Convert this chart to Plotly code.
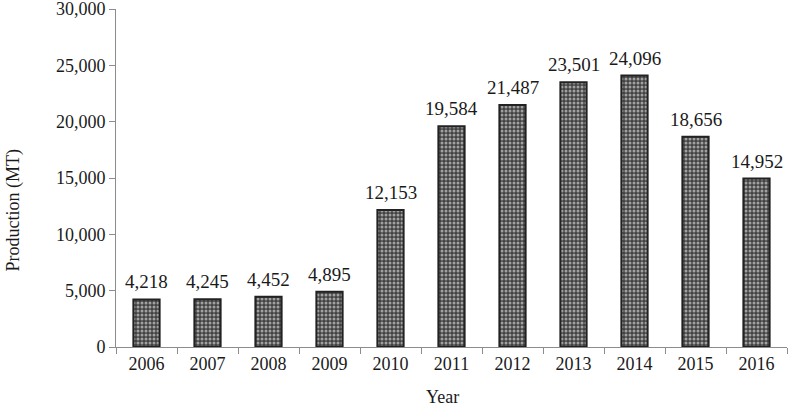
import plotly.graph_objects as go

years = ["2006", "2007", "2008", "2009", "2010", "2011", "2012", "2013", "2014", "2015", "2016"]
production = [4218, 4245, 4452, 4895, 12153, 19584, 21487, 23501, 24096, 18656, 14952]
y_ticks = [0, 5000, 10000, 15000, 20000, 25000, 30000]

serif = "Liberation Serif, Times New Roman, serif"

fig = go.Figure()

fig.add_trace(
    go.Bar(
        x=years,
        y=production,
        width=0.43,
        marker=dict(
            color="#444444",
            line=dict(color="#222222", width=2),
            pattern=dict(shape=".", fgcolor="#ffffff", bgcolor="#424242", size=4, solidity=0.45),
        ),
    )
)

# value labels above the bars (category axis -> position by index)
for i, v in enumerate(production):
    fig.add_annotation(x=i, y=v, text=f"{v:,}", showarrow=False, yanchor="bottom", yshift=5,
                       font=dict(family=serif, size=19, color="#1a1a1a"))

# axis titles as annotations so they sit where the original puts them
fig.add_annotation(text="Production (MT)", textangle=-90, xref="paper", yref="paper",
                   x=-0.153, y=0.405, xanchor="center", yanchor="middle", showarrow=False,
                   font=dict(family=serif, size=18, color="#1a1a1a"))
fig.add_annotation(text="Year", xref="paper", yref="paper",
                   x=0.487, y=-0.147, xanchor="center", yanchor="middle", showarrow=False,
                   font=dict(family=serif, size=18, color="#1a1a1a"))

fig.update_layout(
    width=788,
    height=406,
    paper_bgcolor="white",
    plot_bgcolor="white",
    font=dict(family=serif, size=18, color="#1a1a1a"),
    margin=dict(l=116, r=1, t=9, b=59),
    showlegend=False,
    xaxis=dict(
        type="category",
        categoryorder="array",
        categoryarray=years,
        automargin=False,
        showline=True,
        linecolor="#8c8c8c",
        linewidth=1,
        ticks="outside",
        tickson="boundaries",
        ticklen=6,
        tickcolor="#8c8c8c",
        showgrid=False,
    ),
    yaxis=dict(
        range=[0, 30000],
        automargin=False,
        tickvals=y_ticks,
        tickformat=",",
        ticklabeloverflow="allow",
        showline=True,
        linecolor="#8c8c8c",
        linewidth=1,
        ticks="outside",
        ticklen=6,
        tickcolor="#8c8c8c",
        showgrid=False,
        zeroline=False,
    ),
)

fig.write_html("out.html", config={"displayModeBar": False},
               post_script="document.body.style.margin='0';")
